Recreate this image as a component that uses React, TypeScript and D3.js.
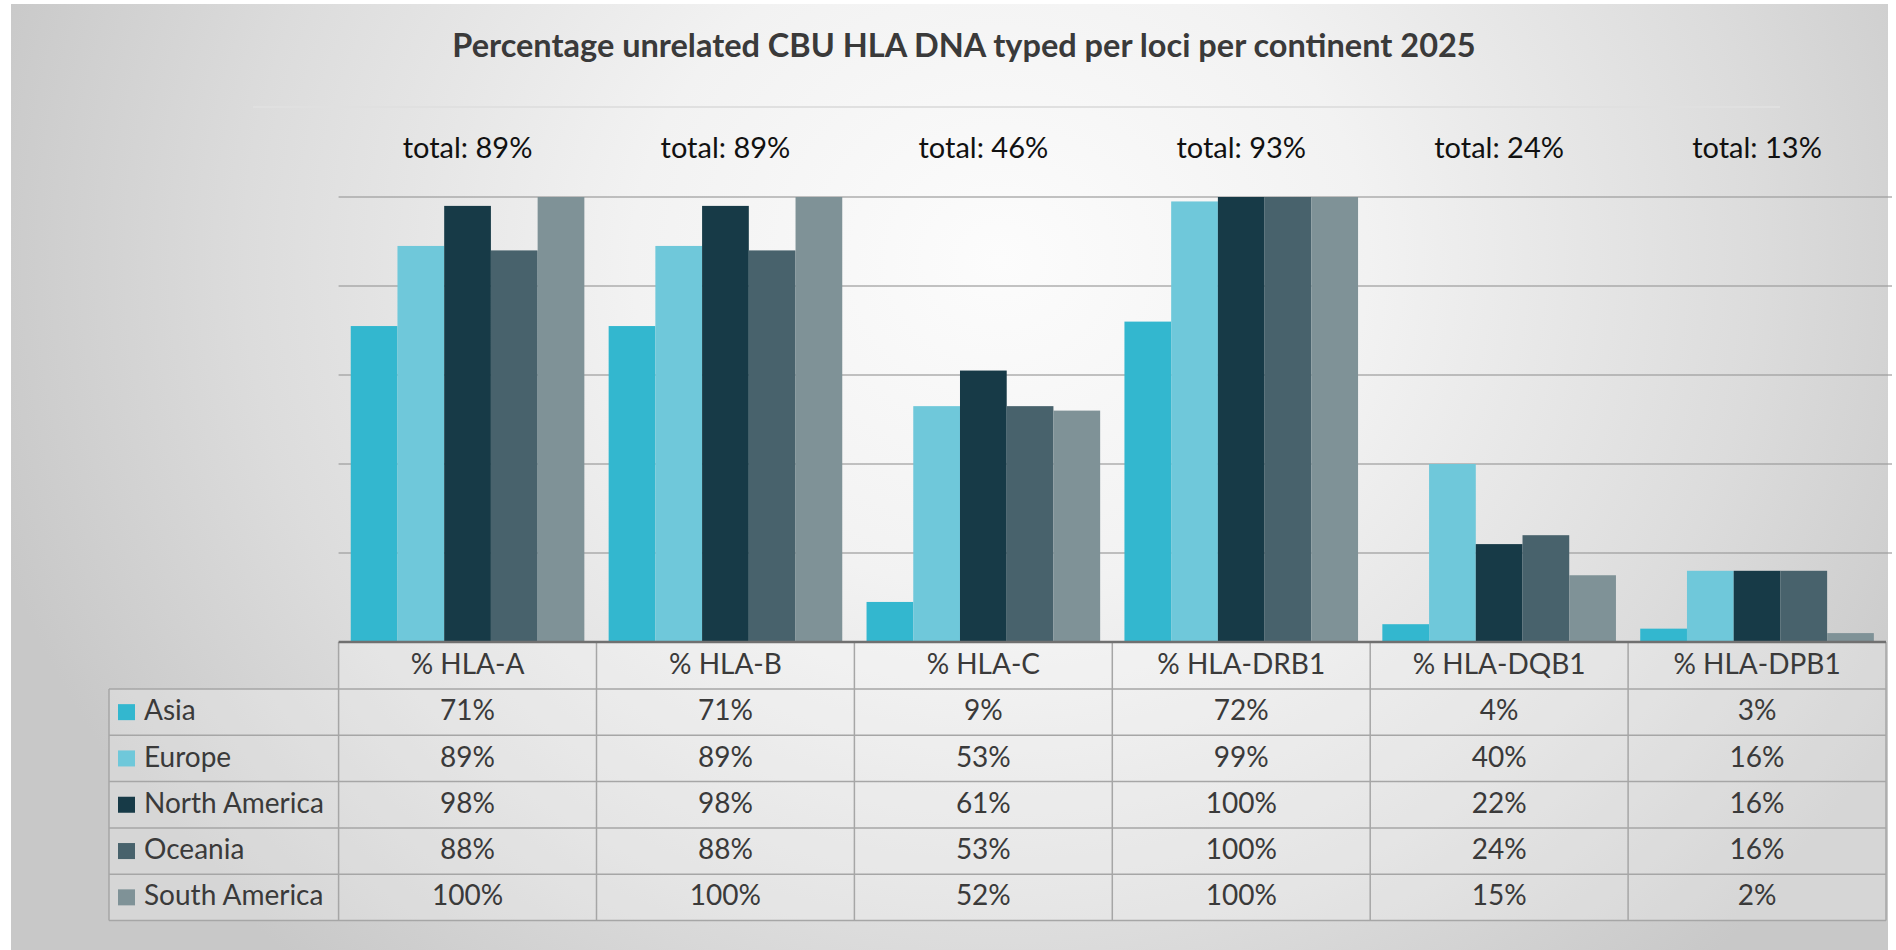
import * as d3 from "d3";

const loci = ["% HLA-A", "% HLA-B", "% HLA-C", "% HLA-DRB1", "% HLA-DQB1", "% HLA-DPB1"];
const totals = [89, 89, 46, 93, 24, 13];
const continents = ["Asia", "Europe", "North America", "Oceania", "South America"];
const asia = [71, 71, 9, 72, 4, 3];
const europe = [89, 89, 53, 99, 40, 16];
const northAmerica = [98, 98, 61, 100, 22, 16];
const oceania = [88, 88, 53, 100, 24, 16];
const southAmerica = [100, 100, 52, 100, 15, 2];
const gridTicks = [20, 40, 60, 80, 100];

const seriesValues = [asia, europe, northAmerica, oceania, southAmerica];
const colors = ["#33b7cf", "#6fc8da", "#173a47", "#48626c", "#7f9297"];

export default function App() {
  const width = 1896;
  const height = 950;
  const font = "Lato, 'Open Sans', sans-serif";

  const plot = { left: 338.6, right: 1886, top: 197, bottom: 642 };
  const table = { legendLeft: 109, rowH: 46.3 };

  const x = d3.scaleBand<string>().domain(loci).range([plot.left, plot.right]);
  const xInner = d3
    .scaleBand<string>()
    .domain(continents)
    .range([0, x.bandwidth()])
    .paddingInner(0)
    .paddingOuter(0.26);
  const y = d3.scaleLinear().domain([0, 100]).range([plot.bottom, plot.top]);

  const headerBottom = plot.bottom + 47;
  const rowY = (i: number) => headerBottom + i * table.rowH;
  const tableBottom = rowY(continents.length);
  const pct = (v: number) => `${v}%`;

  return (
    <svg
      width={width}
      height={height}
      style={{ position: "absolute", left: 0, top: 0 }}
      fontFamily={font}
    >
      <defs>
        <radialGradient id="bg" cx="1000" cy="260" r="1050" gradientUnits="userSpaceOnUse"
          gradientTransform="translate(1000 260) scale(1 0.9) translate(-1000 -260)">
          <stop offset="0" stopColor="#fcfcfc" />
          <stop offset="0.35" stopColor="#f2f2f2" />
          <stop offset="0.72" stopColor="#dcdcdc" />
          <stop offset="1" stopColor="#c8c8c8" />
        </radialGradient>
      </defs>
      <rect width={width} height={height} fill="#ffffff" />
      <rect x={11} y={4} width={width - 19} height={height - 4} fill="url(#bg)" />

      {/* title */}
      <text
        x={964}
        y={57}
        textAnchor="middle"
        fontSize={32.5}
        fontWeight="bold"
        fill="#3a3a3a"
      >
        Percentage unrelated CBU HLA DNA typed per loci per continent 2025
      </text>

      {/* faint divider under title */}
      <line x1={253} x2={1780} y1={107} y2={107} stroke="#e0e0e0" strokeWidth={2} />

      {/* totals */}
      {loci.map((l, i) => (
        <text
          key={l}
          x={x(l)! + x.bandwidth() / 2}
          y={151}
          textAnchor="middle"
          dominantBaseline="middle"
          fontSize={29}
          fill="#111"
        >
          {`total: ${pct(totals[i])}`}
        </text>
      ))}

      {/* gridlines */}
      {gridTicks.map((t) => (
        <line
          key={t}
          x1={plot.left}
          x2={plot.right + 6}
          y1={y(t)}
          y2={y(t)}
          stroke="#9c9c9c"
          strokeWidth={1.5}
          opacity={0.8}
        />
      ))}

      {/* bars */}
      {seriesValues.map((vals, s) =>
        loci.map((l, i) => (
          <rect
            key={`${s}-${l}`}
            x={x(l)! + xInner(continents[s])!}
            y={y(vals[i])}
            width={xInner.bandwidth()}
            height={y(0) - y(vals[i])}
            fill={colors[s]}
          />
        ))
      )}

      {/* data table */}
      <g>
        <rect
          x={plot.left}
          y={plot.bottom}
          width={plot.right - plot.left}
          height={tableBottom - plot.bottom}
          fill="#ffffff"
          opacity={0.25}
        />
        <rect
          x={table.legendLeft}
          y={headerBottom}
          width={plot.left - table.legendLeft}
          height={tableBottom - headerBottom}
          fill="#ffffff"
          opacity={0.25}
        />
        {/* horizontal rules */}
        {d3.range(continents.length + 1).map((i) => (
          <line
            key={`h${i}`}
            x1={table.legendLeft}
            x2={plot.right}
            y1={rowY(i)}
            y2={rowY(i)}
            stroke="#a6a6a6"
            strokeWidth={1.5}
          />
        ))}
        {/* vertical rules */}
        {[...loci.map((l) => x(l)!), plot.right].map((vx, i) => (
          <line
            key={`v${i}`}
            x1={vx}
            x2={vx}
            y1={plot.bottom}
            y2={tableBottom}
            stroke="#a6a6a6"
            strokeWidth={1.5}
          />
        ))}
        <line
          x1={table.legendLeft}
          x2={table.legendLeft}
          y1={headerBottom}
          y2={tableBottom}
          stroke="#a6a6a6"
          strokeWidth={1.5}
        />
        {/* header */}
        {loci.map((l) => (
          <text
            key={`th${l}`}
            x={x(l)! + x.bandwidth() / 2}
            y={(plot.bottom + headerBottom) / 2 + 1}
            textAnchor="middle"
            dominantBaseline="middle"
            fontSize={28}
            fill="#3a3a3a"
          >
            {l}
          </text>
        ))}
        {/* rows */}
        {continents.map((c, s) => (
          <g key={c}>
            <rect
              x={table.legendLeft + 9}
              y={rowY(s) + table.rowH / 2 - 8}
              width={17}
              height={16}
              fill={colors[s]}
            />
            <text
              x={table.legendLeft + 35}
              y={rowY(s) + table.rowH / 2 + 1}
              dominantBaseline="middle"
              fontSize={28}
              fill="#3a3a3a"
            >
              {c}
            </text>
            {loci.map((l, i) => (
              <text
                key={`${c}${l}`}
                x={x(l)! + x.bandwidth() / 2}
                y={rowY(s) + table.rowH / 2 + 1}
                textAnchor="middle"
                dominantBaseline="middle"
                fontSize={28}
                fill="#3a3a3a"
              >
                {pct(seriesValues[s][i])}
              </text>
            ))}
          </g>
        ))}
      </g>

      {/* axis baseline */}
      <line
        x1={plot.left}
        x2={plot.right}
        y1={plot.bottom}
        y2={plot.bottom}
        stroke="#707070"
        strokeWidth={2.5}
      />
    </svg>
  );
}
